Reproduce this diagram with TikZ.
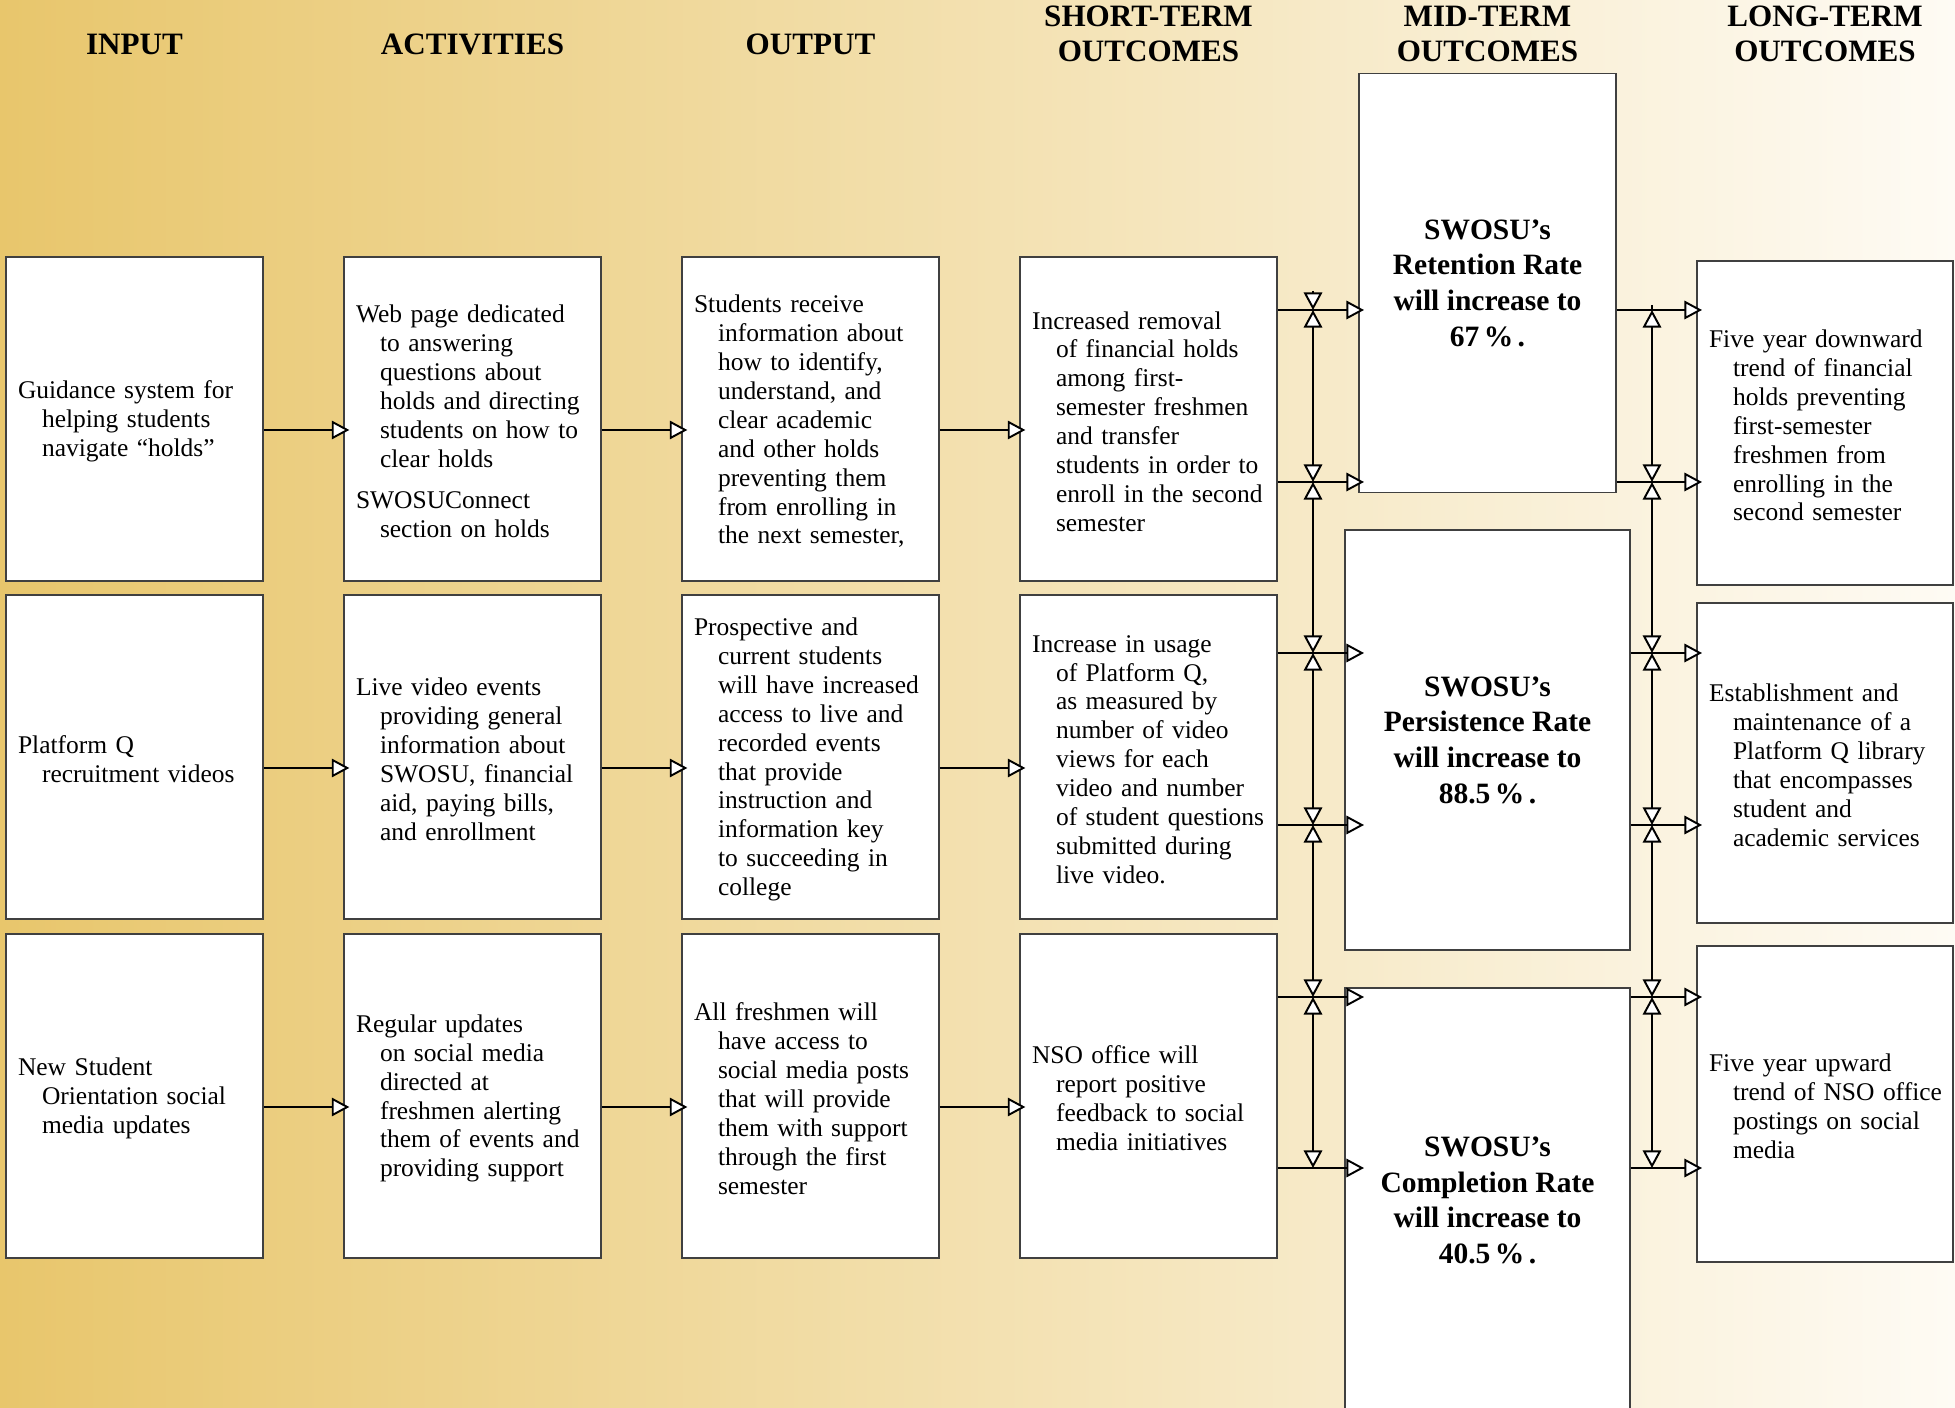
\documentclass[tikz,border=0pt]{standalone}
\usepackage{fontspec}
\setmainfont{Liberation Serif}
\usepackage{xcolor}
\usetikzlibrary{arrows.meta,shapes,calc,positioning}
\definecolor{goldleft}{RGB}{232,198,108}
\definecolor{goldmid}{RGB}{243,224,166}
\definecolor{goldright}{RGB}{254,251,244}

\begin{document}
\begin{tikzpicture}[x = 0.02cm, y = -0.02cm]
		\tikzstyle{every node}=[font=\fontsize{14.5}{16.45}\selectfont]
		\tikzstyle{boxnode}=[draw=black!75, line width=0.8pt, fill=white, rectangle, minimum width=5.14cm, minimum height=6.48cm, inner xsep=0.12cm, text width=4.9cm, align=left, execute at begin node={\leftskip=0.12cm\hangindent=0.48cm\hangafter=1\def\\{\newline}}, execute at end node={\endgraf\kern-0.1cm}]
		\tikzstyle{ratenode}=[draw=black!75, line width=0.8pt, fill=white, rectangle, minimum width=5.14cm, minimum height=8.38cm, align=center, font=\fontsize{16.8}{20.3}\selectfont\bfseries]
		\tikzstyle{headnode}=[align=center, font=\fontsize{17.7}{20}\selectfont\bfseries]
		\tikzstyle{arrowline}=[line width=1.1pt, -{Triangle[fill=white, length=10pt, width=10.5pt]}]
		\tikzstyle{dualline}=[line width=1.1pt, {Triangle[fill=white, length=10pt, width=10.5pt]}-{Triangle[fill=white, length=10pt, width=10.5pt]}]
		\useasboundingbox (0,0) rectangle (1955,1408);
		\shade [left color=goldleft, middle color=goldmid, right color=goldright] (0,0) rectangle (1955,1408);
		\node [headnode] (hin) at (134.5,44) {INPUT};
		\node [headnode] (hact) at (472.5,44) {ACTIVITIES};
		\node [headnode] (hout) at (810.5,44) {OUTPUT};
		\node [headnode] (hst) at (1148.5,34) {SHORT-TERM\\OUTCOMES};
		\node [headnode] (hmt) at (1487.5,34) {MID-TERM\\OUTCOMES};
		\node [headnode] (hlt) at (1825,34) {LONG-TERM\\OUTCOMES};
		\node [boxnode] (in1) at (134.5,419) {Guidance system for\\helping students\\navigate “holds”};
		\node [boxnode] (in2) at (134.5,757) {Platform Q\\recruitment videos};
		\node [boxnode] (in3) at (134.5,1096) {New Student\\Orientation social\\media updates};
		\node [boxnode] (act1) at (472.5,419) {Web page dedicated\\to answering\\questions about\\holds and directing\\students on how to\\clear holds\par\vspace{7pt}\hangindent=0.48cm\hangafter=1 SWOSUConnect\\section on holds};
		\node [boxnode] (act2) at (472.5,757) {Live video events\\providing general\\information about\\SWOSU, financial\\aid, paying bills,\\and enrollment};
		\node [boxnode] (act3) at (472.5,1096) {Regular updates\\on social media\\directed at\\freshmen alerting\\them of events and\\providing support};
		\node [boxnode] (out1) at (810.5,419) {Students receive\\information about\\how to identify,\\understand, and\\clear academic\\and other holds\\preventing them\\from enrolling in\\the next semester,};
		\node [boxnode] (out2) at (810.5,757) {Prospective and\\current students\\will have increased\\access to live and\\recorded events\\that provide\\instruction and\\information key\\to succeeding in\\college};
		\node [boxnode] (out3) at (810.5,1096) {All freshmen will\\have access to\\social media posts\\that will provide\\them with support\\through the first\\semester};
		\node [boxnode] (st1) at (1148.5,419) {Increased removal\\of financial holds\\among first-\\semester freshmen\\and transfer\\students in order to\\enroll in the second\\semester};
		\node [boxnode] (st2) at (1148.5,757) {Increase in usage\\of Platform Q,\\as measured by\\number of video\\views for each\\video and number\\of student questions\\submitted during\\live video.};
		\node [boxnode] (st3) at (1148.5,1096) {NSO office will\\report positive\\feedback to social\\media initiatives};
		\node [ratenode] (m1) at (1487.5,283) {SWOSU’s\\Retention Rate\\will increase to\\67\kern2.5pt\%\kern2.5pt.};
		\node [ratenode, minimum width=5.7cm, minimum height=8.4cm] (m2) at (1487.5,740) {SWOSU’s\\Persistence Rate\\will increase to\\88.5\kern2.5pt\%\kern2.5pt.};
		\node [ratenode, minimum width=5.7cm, minimum height=8.5cm] (m3) at (1487.5,1200.5) {SWOSU’s\\Completion Rate\\will increase to\\40.5\kern2.5pt\%\kern2.5pt.};
		\node [boxnode, minimum width=5.12cm, text width=4.88cm] (lt1) at (1825,423) {Five year downward\\trend of financial\\holds preventing\\first-semester\\freshmen from\\enrolling in the\\second semester};
		\node [boxnode, minimum width=5.12cm, text width=4.88cm, minimum height=6.4cm] (lt2) at (1825,763) {Establishment and\\maintenance of a\\Platform Q library\\that encompasses\\student and\\academic services};
		\node [boxnode, minimum width=5.12cm, text width=4.88cm, minimum height=6.32cm] (lt3) at (1825,1104) {Five year upward\\trend of NSO office\\postings on social\\media};
		\draw [arrowline, shorten >=-0.12cm] ([yshift=-0.22cm]in1.east) -- ([yshift=-0.22cm]act1.west);
		\draw [arrowline, shorten >=-0.12cm] ([yshift=-0.22cm]in2.east) -- ([yshift=-0.22cm]act2.west);
		\draw [arrowline, shorten >=-0.12cm] ([yshift=-0.22cm]in3.east) -- ([yshift=-0.22cm]act3.west);
		\draw [arrowline, shorten >=-0.12cm] ([yshift=-0.22cm]act1.east) -- ([yshift=-0.22cm]out1.west);
		\draw [arrowline, shorten >=-0.12cm] ([yshift=-0.22cm]act2.east) -- ([yshift=-0.22cm]out2.west);
		\draw [arrowline, shorten >=-0.12cm] ([yshift=-0.22cm]act3.east) -- ([yshift=-0.22cm]out3.west);
		\draw [arrowline, shorten >=-0.12cm] ([yshift=-0.22cm]out1.east) -- ([yshift=-0.22cm]st1.west);
		\draw [arrowline, shorten >=-0.12cm] ([yshift=-0.22cm]out2.east) -- ([yshift=-0.22cm]st2.west);
		\draw [arrowline, shorten >=-0.12cm] ([yshift=-0.22cm]out3.east) -- ([yshift=-0.22cm]st3.west);
		\coordinate (a0) at (1313,291);
		\coordinate (a1) at (1313,310);
		\coordinate (a2) at (1313,482);
		\coordinate (a3) at (1313,653);
		\coordinate (a4) at (1313,825);
		\coordinate (a5) at (1313,997);
		\coordinate (a6) at (1313,1168);
		\coordinate (b0) at (1652,305);
		\coordinate (b1) at (1652,310);
		\coordinate (b2) at (1652,482);
		\coordinate (b3) at (1652,653);
		\coordinate (b4) at (1652,825);
		\coordinate (b5) at (1652,997);
		\coordinate (b6) at (1652,1168);
		\coordinate (p1) at (1364,310);
		\coordinate (p2) at (1364,482);
		\coordinate (p3) at (1364,653);
		\coordinate (p4) at (1364,825);
		\coordinate (p5) at (1364,997);
		\coordinate (p6) at (1364,1168);
		\coordinate (q1) at (1702,310);
		\coordinate (q2) at (1702,482);
		\coordinate (q3) at (1702,653);
		\coordinate (q4) at (1702,825);
		\coordinate (q5) at (1702,997);
		\coordinate (q6) at (1702,1168);
		\draw [arrowline] (a0) -- (a1);
		\draw [dualline] (a1) -- (a2);
		\draw [dualline] (a2) -- (a3);
		\draw [dualline] (a3) -- (a4);
		\draw [dualline] (a4) -- (a5);
		\draw [dualline] (a5) -- (a6);
		\draw [line width=1.1pt] (b0) -- (b1);
		\draw [dualline] (b1) -- (b2);
		\draw [dualline] (b2) -- (b3);
		\draw [dualline] (b3) -- (b4);
		\draw [dualline] (b4) -- (b5);
		\draw [dualline] (b5) -- (b6);
		\draw [arrowline] (st1.east |- a1) -- (p1);
		\draw [arrowline] (st1.east |- a2) -- (p2);
		\draw [arrowline] (st2.east |- a3) -- (p3);
		\draw [arrowline] (st2.east |- a4) -- (p4);
		\draw [arrowline] (st3.east |- a5) -- (p5);
		\draw [arrowline] (st3.east |- a6) -- (p6);
		\draw [arrowline] (m1.east |- b1) -- (q1);
		\draw [arrowline] (m1.east |- b2) -- (q2);
		\draw [arrowline] (m2.east |- b3) -- (q3);
		\draw [arrowline] (m2.east |- b4) -- (q4);
		\draw [arrowline] (m3.east |- b5) -- (q5);
		\draw [arrowline] (m3.east |- b6) -- (q6);
\end{tikzpicture}
\end{document}
